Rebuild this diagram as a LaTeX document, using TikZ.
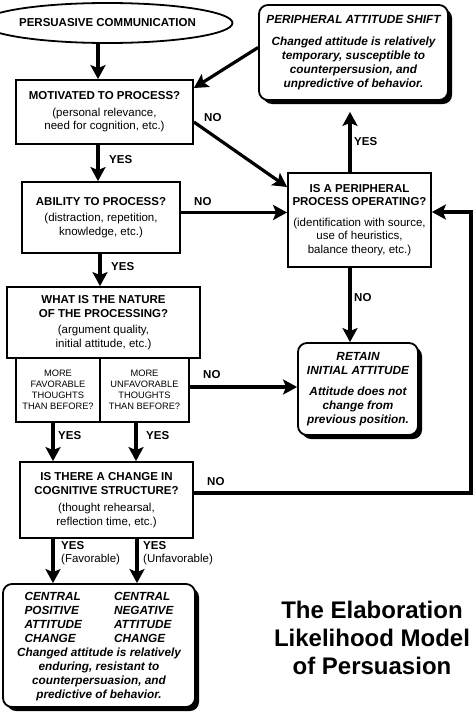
\documentclass[tikz,border=0pt]{standalone}
\usepackage{fontspec}
\setmainfont{Liberation Sans}
\usepackage{tikz}
\usepgflibrary{arrows.meta}
\usetikzlibrary{calc}
\usetikzlibrary{shapes.geometric}
\usetikzlibrary{shadows}

\begin{document}
\begin{tikzpicture}[
        x=1pt, y=-1pt,
        flow arrow/.style={
        arrows = {-Stealth[length=14pt,width=15pt,inset=3pt]},
        line width=3.2pt
        },
        question/.style={
                draw,
                line width=1.8pt,
                inner sep=0pt,
                align=center,
                font=\fontsize{11.5}{13.5}\selectfont
            },
        choice/.style={
                draw,
                line width=1.8pt,
                inner sep=0pt,
                align=center,
                font=\fontsize{9.3}{11}\selectfont
            },
        outcome/.style={
                draw,
                fill=white,
                rounded corners=9pt,
                line width=1.8pt,
                inner sep=0pt,
                align=center,
                font=\fontsize{11.8}{14}\bfseries\itshape,
                general shadow={fill=black, shadow xshift=4pt, shadow yshift=-4pt}
            },
        answer/.style={
                anchor=west,
                inner sep=0pt,
                font=\fontsize{11.5}{13.5}\bfseries
            }]
        \useasboundingbox (0,0) rectangle (474,712);

        \node [ellipse, draw, line width=1.8pt, inner sep=0pt,
               minimum width=209, minimum height=40,
               font=\fontsize{11.5}{13}\bfseries] (comm) at (107.5,23) {PERSUASIVE COMMUNICATION};

        \node [question, minimum width=177, minimum height=64] (motiv) at (104.5,112)
              {\textbf{MOTIVATED TO PROCESS?}\\[3pt](personal relevance,\\need for cognition, etc.)};
        \node [question, minimum width=158, minimum height=71] (ability) at (101,217.5)
              {\textbf{ABILITY TO PROCESS?}\\[3pt](distraction, repetition,\\knowledge, etc.)};
        \node [question, minimum width=193, minimum height=71] (nature) at (103.5,322.5)
              {\textbf{WHAT IS THE NATURE}\\\textbf{OF THE PROCESSING?}\\[3pt](argument quality,\\initial attitude, etc.)};
        \node [choice, minimum width=84, minimum height=64] (fav) at (58,390)
              {MORE\\FAVORABLE\\THOUGHTS\\THAN BEFORE?};
        \node [choice, minimum width=89, minimum height=64] (unfav) at (144.5,390)
              {MORE\\UNFAVORABLE\\THOUGHTS\\THAN BEFORE?};
        \node [question, minimum width=173, minimum height=76] (change) at (106.5,500)
              {\textbf{IS THERE A CHANGE IN}\\\textbf{COGNITIVE STRUCTURE?}\\[4pt](thought rehearsal,\\reflection time, etc.)};
        \node [question, minimum width=143, minimum height=94] (periph) at (359.5,220)
              {\textbf{IS A PERIPHERAL}\\\textbf{PROCESS OPERATING?}\\[7pt](identification with source,\\use of heuristics,\\balance theory, etc.)};

        \node [outcome, minimum width=189, minimum height=95] (shift) at (353.5,52.5)
              {PERIPHERAL ATTITUDE SHIFT\\[8pt]Changed attitude is relatively\\temporary, susceptible to\\counterpersusion, and\\unpredictive of behavior.};
        \node [outcome, minimum width=120, minimum height=92] (retain) at (358,389)
              {RETAIN\\INITIAL ATTITUDE\\[7pt]Attitude does not\\change from\\previous position.};
        \node [outcome, minimum width=192, minimum height=123] (central) at (99,645.5)
              {\begin{tabular}{@{}l@{\hspace{32pt}}l@{}}
               CENTRAL & CENTRAL\\ POSITIVE & NEGATIVE\\ ATTITUDE & ATTITUDE\\ CHANGE & CHANGE
               \end{tabular}\\
               Changed attitude is relatively\\enduring, resistant to\\counterpersuasion, and\\predictive of behavior.};

        \node [align=center, inner sep=0pt, font=\fontsize{24}{28}\bfseries] (title) at (372,638)
              {The Elaboration\\Likelihood Model\\of Persuasion};

        % main route
        \draw [flow arrow] ($(comm.south)+(-9.5,0)$) to ($(motiv.north)+(-6.5,0)$);
        \draw [flow arrow] ($(motiv.south)+(-6.5,0)$) to ($(ability.north)+(-3,0)$);
        \draw [flow arrow] ($(ability.south)+(-1,0)$) to ($(nature.north)+(-3.5,0)$);
        \draw [flow arrow] ($(fav.south)+(-5,0)$) to ($(change.north)+(-53.5,0)$);
        \draw [flow arrow] ($(unfav.south)+(-8.5,0)$) to ($(change.north)+(29.5,0)$);
        \draw [flow arrow] ($(change.south)+(-53.5,0)$) to ($(central.north)+(-46,0)$);
        \draw [flow arrow] ($(change.south)+(30.5,0)$) to ($(central.north)+(38,0)$);

        % peripheral route
        \draw [flow arrow] ($(motiv.east)+(0,10)$) to ($(periph.west)+(0,-33)$);
        \draw [flow arrow] ($(ability.east)+(0,-5)$) to ($(periph.west)+(0,-7.5)$);
        \draw [flow arrow] ($(unfav.east)+(0,-3)$) to ($(retain.west)+(0,-2)$);
        \draw [flow arrow] ($(periph.north)+(-9.5,0)$) to ($(shift.south)+(-3.5,11)$);
        \draw [flow arrow] ($(periph.south)+(-9.5,0)$) to ($(retain.north)+(-8,0)$);
        \draw [flow arrow] ($(shift.west)+(0,-5)$) to ($(motiv.east)+(0,-24)$);
        \coordinate (loop) at (471,493);
        \draw [flow arrow] ($(change.east)+(0,-7)$) -- (loop) |- ($(periph.east)+(0,-8)$);

        \node [answer] (yes1) at (109,160) {YES};
        \node [answer] (no1) at (204,118) {NO};
        \node [answer] (no2) at (194,202) {NO};
        \node [answer] (yes2) at (111,267) {YES};
        \node [answer] (no3) at (203,375) {NO};
        \node [answer] (yes3) at (58,436) {YES};
        \node [answer] (yes4) at (146,436) {YES};
        \node [answer] (no4) at (207,482) {NO};
        \node [answer] (yes5) at (354,142) {YES};
        \node [answer] (no5) at (354,298) {NO};
        \node [answer, anchor=north west, align=left] (yes6) at (61,541)
              {YES\\\mdseries(Favorable)};
        \node [answer, anchor=north west, align=left] (yes7) at (143,541)
              {YES\\\mdseries(Unfavorable)};
    \end{tikzpicture}
\end{document}
